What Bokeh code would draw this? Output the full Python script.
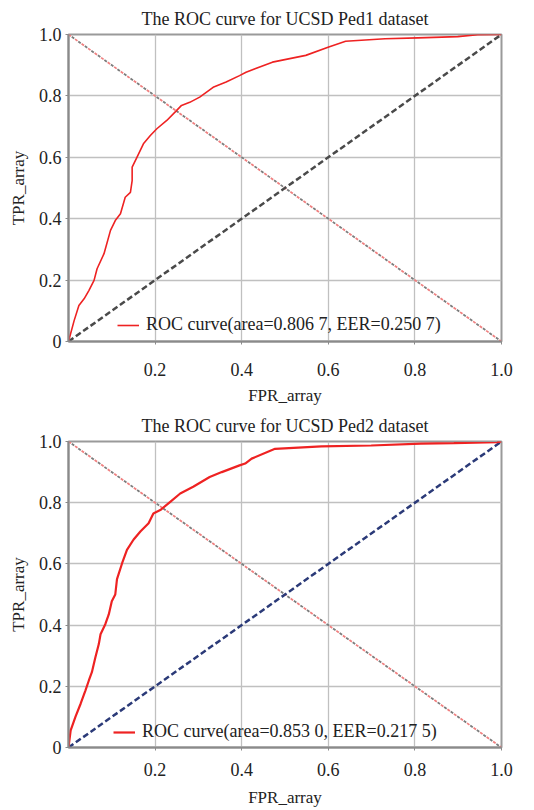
from bokeh.plotting import figure
from bokeh.layouts import column
from bokeh.models import FixedTicker, Legend, LegendItem
from bokeh.embed import file_html
from bokeh.resources import INLINE

# ---- data ----
titles = ["The ROC curve for UCSD Ped1 dataset", "The ROC curve for UCSD Ped2 dataset"]
legend_labels = ["ROC curve(area=0.806 7, EER=0.250 7)", "ROC curve(area=0.853 0, EER=0.217 5)"]

ped1_fpr = [0, 0.013, 0.024, 0.036, 0.047, 0.059, 0.066, 0.082, 0.097, 0.108, 0.12, 0.131, 0.143,
            0.147, 0.147, 0.158, 0.173, 0.189, 0.204, 0.227, 0.246, 0.261, 0.28, 0.303, 0.334,
            0.364, 0.395, 0.41, 0.471, 0.548, 0.601, 0.64, 0.731, 0.807, 0.899, 0.945, 1.0]
ped1_tpr = [0, 0.068, 0.117, 0.139, 0.166, 0.199, 0.237, 0.286, 0.362, 0.394, 0.416, 0.47, 0.486,
            0.524, 0.568, 0.60, 0.644, 0.671, 0.693, 0.72, 0.747, 0.769, 0.779, 0.796, 0.828,
            0.845, 0.866, 0.877, 0.91, 0.932, 0.959, 0.978, 0.986, 0.989, 0.993, 0.999, 1.0]

ped2_fpr = [0, 0.005, 0.016, 0.028, 0.039, 0.047, 0.054, 0.062, 0.07, 0.074, 0.085, 0.093, 0.1,
            0.108, 0.112, 0.124, 0.135, 0.15, 0.166, 0.185, 0.196, 0.212, 0.235, 0.258, 0.288,
            0.326, 0.354, 0.395, 0.408, 0.423, 0.477, 0.584, 0.699, 0.814, 0.89, 0.99, 1.0]
ped2_tpr = [0, 0.056, 0.1, 0.143, 0.186, 0.219, 0.246, 0.294, 0.338, 0.37, 0.403, 0.435, 0.478,
            0.5, 0.55, 0.603, 0.646, 0.679, 0.706, 0.733, 0.765, 0.776, 0.803, 0.83, 0.852,
            0.884, 0.9, 0.922, 0.928, 0.944, 0.976, 0.984, 0.987, 0.993, 0.995, 0.998, 1.0]

chance_x = [0, 1]
chance_y = [0, 1]
anti_y = [1, 0]

x_ticks = [0.2, 0.4, 0.6, 0.8, 1.0]
x_tick_labels = ["0.2", "0.4", "0.6", "0.8", "1.0"]
y_ticks = [0, 0.2, 0.4, 0.6, 0.8, 1.0]
y_tick_labels = ["0", "0.2", "0.4", "0.6", "0.8", "1.0"]

FONT = "Liberation Serif"


def make(title, fpr, tpr, label, diag_color, height, top, bottom, left, right,
         title_standoff, tick_standoff, label_standoff, legend_loc, roc_width):
    p = figure(width=534, height=height, x_range=(0, 1), y_range=(0, 1),
               output_backend="svg", toolbar_location=None,
               min_border_top=top, min_border_bottom=bottom,
               min_border_left=left, min_border_right=right, title=title)
    p.title.align = "center"
    p.title.text_font = FONT
    p.title.text_font_size = "18px"
    p.title.text_font_style = "normal"
    p.title.text_color = "#222222"
    p.title.standoff = title_standoff

    p.xaxis.ticker = FixedTicker(ticks=x_ticks)
    p.yaxis.ticker = FixedTicker(ticks=y_ticks)
    p.xaxis.major_label_overrides = {t: l for t, l in zip(x_ticks, x_tick_labels)}
    p.yaxis.major_label_overrides = {t: l for t, l in zip(y_ticks, y_tick_labels)}
    p.xaxis.axis_label = "FPR_array"
    p.yaxis.axis_label = "TPR_array"
    for ax in (p.xaxis[0], p.yaxis[0]):
        ax.axis_line_color = "#8a8a8a"
        ax.axis_line_width = 2
        ax.major_tick_line_color = "#8a8a8a"
        ax.major_tick_out = 3
        ax.major_tick_in = 0
        ax.minor_tick_line_color = None
        ax.major_label_text_font = FONT
        ax.major_label_text_font_size = "18px"
        ax.major_label_text_color = "#222222"
        ax.axis_label_text_font = FONT
        ax.axis_label_text_font_size = "17px"
        ax.axis_label_text_font_style = "normal"
        ax.axis_label_text_color = "#222222"
    p.xaxis.major_label_standoff = tick_standoff
    p.xaxis.axis_label_standoff = label_standoff
    p.yaxis.major_label_standoff = 4
    p.yaxis.axis_label_standoff = 8

    p.xgrid.ticker = FixedTicker(ticks=x_ticks)
    p.ygrid.ticker = FixedTicker(ticks=y_ticks)
    p.grid.grid_line_color = "#c0c0c0"
    p.grid.grid_line_width = 1.3
    p.outline_line_color = "#9a9a9a"
    p.outline_line_width = 2

    # anti-diagonal (dotted red/gray)
    p.line(chance_x, anti_y, line_color="#f08080", line_width=1.8, line_dash="3 5")
    p.line(chance_x, anti_y, line_color="#7c7c7c", line_width=1.8, line_dash="3 5",
           line_dash_offset=4)
    # chance diagonal
    p.line(chance_x, chance_y, line_color=diag_color, line_width=2.5, line_dash="6 3")
    # ROC curve
    r = p.line(fpr, tpr, line_color="#ee2222", line_width=roc_width)

    leg = Legend(items=[LegendItem(label=label, renderers=[r])],
                 location=legend_loc, border_line_color=None,
                 background_fill_alpha=0, padding=0, margin=0, spacing=0,
                 glyph_width=22, glyph_height=20, label_height=20, label_standoff=7,
                 label_text_font=FONT, label_text_font_size="18px",
                 label_text_color="#222222")
    p.add_layout(leg, "center")
    return p


p1 = make(titles[0], ped1_fpr, ped1_tpr, legend_labels[0], "#4a4a4a",
          408, 34, 67, 68, 30, 11, 18, 7, (49, 6), 1.6)
p2 = make(titles[1], ped2_fpr, ped2_tpr, legend_labels[1], "#2b3a78",
          402, 31, 63, 66, 33, 11, 12, 9, (45, 5), 2.2)

layout = column(p1, p2, spacing=0)
open("out.html", "w").write(file_html(layout, INLINE))
